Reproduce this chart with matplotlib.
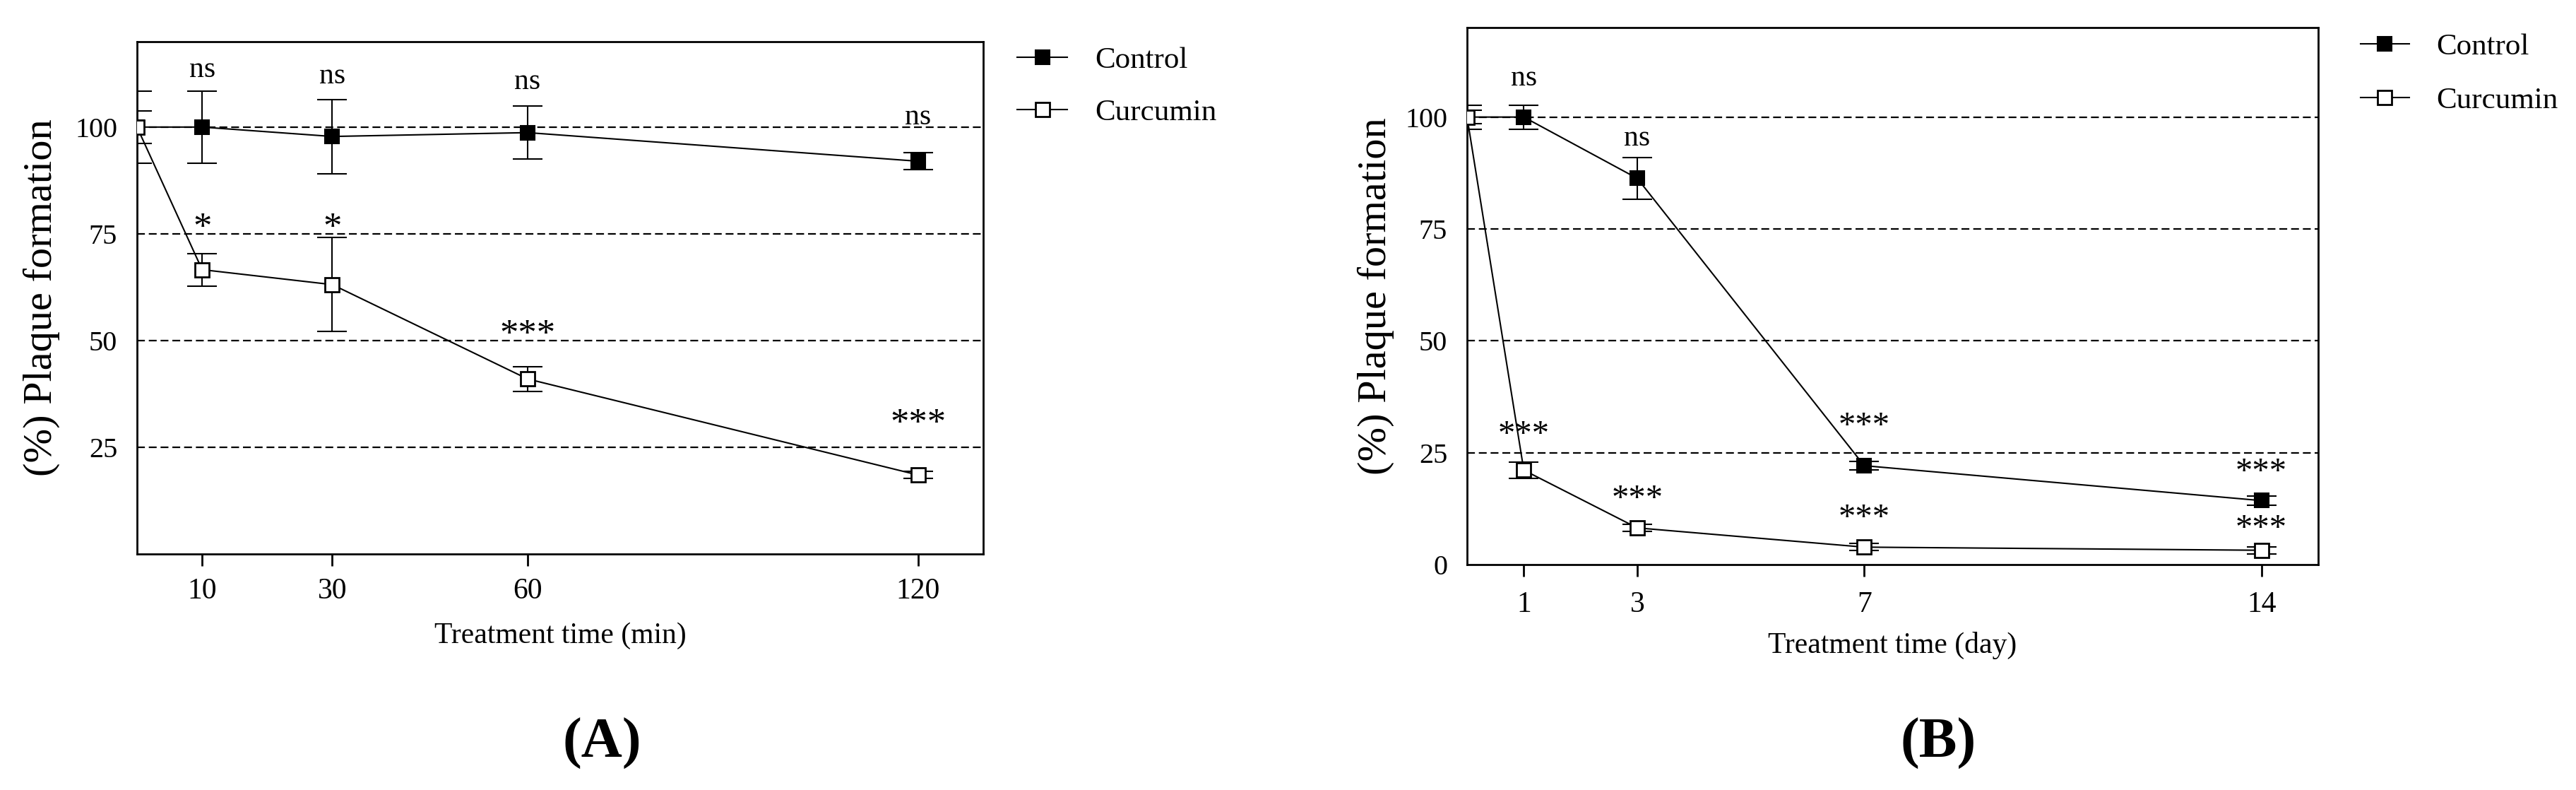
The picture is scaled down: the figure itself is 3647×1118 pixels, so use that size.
import matplotlib
matplotlib.use("Agg")
import matplotlib.pyplot as plt
from matplotlib.ticker import FixedLocator

plt.rcParams['font.family'] = ['Liberation Serif', 'DejaVu Serif']

# panel A: treatment time in minutes
t_min = [0, 10, 30, 60, 120]
ctrl_min = [100, 100, 97.8, 98.7, 92.0]
ctrl_min_err = [8.4, 8.4, 8.7, 6.2, 2.0]
curc_min = [100, 66.6, 63.1, 41.0, 18.5]
curc_min_err = [3.8, 3.8, 11.0, 2.9, 0.8]
min_ticks = [10, 30, 60, 120]

# significance marks for A: (x, y, text, size)
marks_min = [
    (10, 111.8, "ns", 30), (30, 110.3, "ns", 30), (60, 108.9, "ns", 30), (120, 100.7, "ns", 30),
    (10, 74.0, "*", 38), (30, 74.0, "*", 38), (60, 49.0, "***", 38), (120, 28.1, "***", 38),
]

# panel B: treatment time in days
t_day = [0, 1, 3, 7, 14]
ctrl_day = [100, 100, 86.3, 22.1, 14.3]
ctrl_day_err = [2.7, 2.7, 4.6, 1.0, 1.0]
curc_day = [100, 21.1, 8.2, 3.9, 3.2]
curc_day_err = [1.5, 1.8, 0.8, 0.8, 0.8]
day_ticks = [1, 3, 7, 14]

marks_day = [
    (1, 107.1, "ns", 30), (3, 93.7, "ns", 30),
    (1, 27.0, "***", 35), (3, 12.6, "***", 35),
    (7, 28.9, "***", 35), (7, 8.4, "***", 35),
    (14, 18.6, "***", 35), (14, 6.0, "***", 35),
]

ref_lines = [25, 50, 75, 100]

W, H = 3648, 1118
fig = plt.figure(figsize=(W / 100, H / 100), dpi=100)

def px_axes(l, t, r, b):
    return fig.add_axes([l / W, 1 - b / H, (r - l) / W, (b - t) / H])

ax1 = px_axes(194, 59, 1392, 784)
ax2 = px_axes(2077, 39, 3282, 799)


def draw_panel(ax, x, c, ce, k, ke, xlim, xticks, yticks, xlabel, marks, xpad, ypad):
    for v in ref_lines:
        ax.axhline(v, color="black", lw=1.6, ls=(0, (5, 2.5)), zorder=1)
    ax.errorbar(x, c, yerr=ce, fmt="none", ecolor="black", elinewidth=1.5,
                capsize=15, capthick=1.5, zorder=3)
    ax.errorbar(x, k, yerr=ke, fmt="none", ecolor="black", elinewidth=1.5,
                capsize=15, capthick=1.5, zorder=3)
    ax.plot(x, c, color="black", lw=1.5, marker="s", ms=14, mfc="black",
            mec="black", mew=1.5, label="Control", zorder=4)
    ax.plot(x, k, color="black", lw=1.5, marker="s", ms=14, mfc="white",
            mec="black", mew=2, label="Curcumin", zorder=4)
    for mx, my, txt, fs in marks:
        ax.text(mx, my, txt, ha="center", va="baseline", fontsize=fs, zorder=5)
    ax.set_xlim(xlim)
    ax.set_ylim(0, 120)
    ax.set_xticks(xticks)
    ax.set_yticks(yticks)
    ax.tick_params(axis="x", direction="out", length=12, width=2, pad=12, labelsize=30)
    ax.tick_params(axis="y", length=0, pad=20, labelsize=29)
    for s in ax.spines.values():
        s.set_linewidth(2)
    ax.set_xlabel(xlabel, fontsize=30, labelpad=xpad)
    ax.set_ylabel("(%) Plaque formation", fontsize=42, labelpad=ypad)


draw_panel(ax1, t_min, ctrl_min, ctrl_min_err, curc_min, curc_min_err,
           (0, 130), min_ticks, [25, 50, 75, 100], "Treatment time (min)", marks_min, 18, 15)
draw_panel(ax2, t_day, ctrl_day, ctrl_day_err, curc_day, curc_day_err,
           (0, 15), day_ticks, [0, 25, 50, 75, 100], "Treatment time (day)", marks_day, 14, 11)

# little tick at 0 that extends the x axis to the left in panel B
ax2.yaxis.set_minor_locator(FixedLocator([0]))
ax2.tick_params(axis="y", which="minor", direction="out", length=13, width=2)
ax2.tick_params(axis="x", pad=15)

ax1.legend(loc="upper left", bbox_to_anchor=(1440 / W, 1 - 66 / H),
           bbox_transform=fig.transFigure, frameon=False, borderpad=0,
           borderaxespad=0, handlelength=1.65, handletextpad=0.9,
           labelspacing=0.8, fontsize=31)
ax2.legend(loc="upper left", bbox_to_anchor=(3342 / W, 1 - 47 / H),
           bbox_transform=fig.transFigure, frameon=False, borderpad=0,
           borderaxespad=0, handlelength=1.6, handletextpad=0.9,
           labelspacing=0.85, fontsize=31)

fig.text(852 / W, 1 - 1052 / H, "(A)", ha="center", va="center", fontsize=58, weight="bold")
fig.text(2744 / W, 1 - 1052 / H, "(B)", ha="center", va="center", fontsize=58, weight="bold")

fig.savefig("out.png", dpi=100)
